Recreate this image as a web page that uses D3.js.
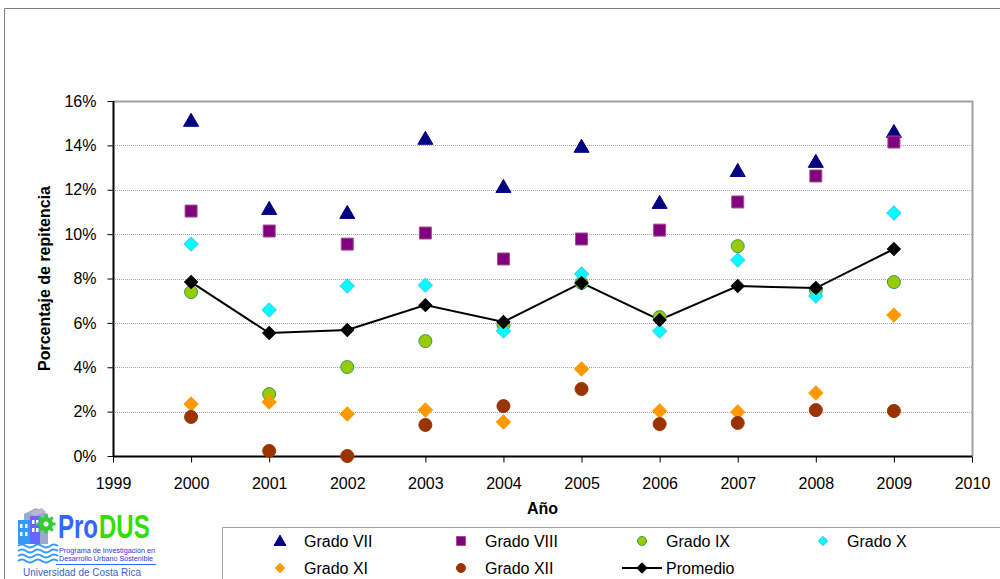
<!DOCTYPE html>
<html>
<head>
<meta charset="utf-8">
<script src="https://cdn.jsdelivr.net/npm/d3@7"></script>
<style>
  html, body { margin: 0; padding: 0; background: #fff; }
  svg { display: block; font-family: "Liberation Sans", Arial, sans-serif; }
</style>
</head>
<body>
<svg id="chart" width="1000" height="579"></svg>
<script>
// Repetition rate (%) by grade, 2000-2009
const years = [2000, 2001, 2002, 2003, 2004, 2005, 2006, 2007, 2008, 2009];
const gradoVII  = [15.1, 11.13, 10.95, 14.29, 12.12, 13.93, 11.4, 12.84, 13.25, 14.6];
const gradoVIII = [11.04, 10.14, 9.55, 10.05, 8.88, 9.78, 10.18, 11.45, 12.62, 14.15];
const gradoIX   = [7.39, 2.79, 4.01, 5.18, 5.9, 7.8, 6.26, 9.46, 7.48, 7.84];
const gradoX    = [9.55, 6.58, 7.66, 7.7, 5.63, 8.2, 5.63, 8.83, 7.21, 10.95];
const gradoXI   = [2.34, 2.43, 1.89, 2.07, 1.53, 3.92, 2.03, 1.98, 2.84, 6.35];
const gradoXII  = [1.76, 0.23, 0.0, 1.40, 2.25, 3.02, 1.44, 1.49, 2.07, 2.03];
const promedio  = [7.84, 5.54, 5.68, 6.8, 6.04, 7.8, 6.13, 7.66, 7.57, 9.33];
const xTicks = [1999, 2000, 2001, 2002, 2003, 2004, 2005, 2006, 2007, 2008, 2009, 2010];
const yTicks = [0, 2, 4, 6, 8, 10, 12, 14, 16];

const series = [
  { name: "Grado VII",  values: gradoVII,  shape: "triangle", fill: "#000080", stroke: "#000080" },
  { name: "Grado VIII", values: gradoVIII, shape: "square",   fill: "#800080", stroke: "#a0508a" },
  { name: "Grado IX",   values: gradoIX,   shape: "circle",   fill: "#99cc00", stroke: "#339966" },
  { name: "Grado X",    values: gradoX,    shape: "diamond",  fill: "#00ffff", stroke: "#33ccff" },
  { name: "Grado XI",   values: gradoXI,   shape: "diamond",  fill: "#ff9900", stroke: "#ff9900" },
  { name: "Grado XII",  values: gradoXII,  shape: "circle",   fill: "#993300", stroke: "#993300" },
  { name: "Promedio",   values: promedio,  shape: "diamond",  fill: "#000000", stroke: "#000000", line: true }
];

const svg = d3.select("#chart");
const plot = { left: 113, right: 972, top: 101, bottom: 456 };

const x = d3.scaleLinear().domain([1999, 2010]).range([plot.left, plot.right]);
const y = d3.scaleLinear().domain([0, 16]).range([plot.bottom, plot.top]);

// outer frame (left and top edges)
svg.append("path")
  .attr("d", "M4.5,579 V8.5 H1000")
  .attr("fill", "none").attr("stroke", "#808080").attr("stroke-width", 1);

// gridlines
svg.append("g").selectAll("line")
  .data(yTicks.filter(d => d > 0 && d < 16))
  .join("line")
  .attr("x1", plot.left).attr("x2", plot.right)
  .attr("y1", d => Math.round(y(d)) + 0.5).attr("y2", d => Math.round(y(d)) + 0.5)
  .attr("stroke", "#a0a0a0").attr("stroke-width", 1).attr("stroke-dasharray", "1,1");

// plot border (top/right gray)
svg.append("path")
  .attr("d", `M${plot.left},${plot.top + 0.5} H${plot.right + 0.5} V${plot.bottom}`)
  .attr("fill", "none").attr("stroke", "#a0a0a0").attr("stroke-width", 2);

// axes
const yAxis = d3.axisLeft(y).tickValues(yTicks).tickFormat(d => d + "%").tickSize(6).tickPadding(11);
const gy = svg.append("g").attr("transform", `translate(${plot.left + 0.5},0)`).call(yAxis);
const xAxis = d3.axisBottom(x).tickValues(xTicks).tickFormat(d3.format("d")).tickSize(6).tickPadding(15);
const gx = svg.append("g").attr("transform", `translate(0,${plot.bottom + 0.5})`).call(xAxis);

[gx, gy].forEach(g => {
  g.select(".domain").attr("stroke", "#000").attr("stroke-width", 2);
  g.selectAll(".tick line").attr("stroke", "#000");
  g.selectAll(".tick text").attr("fill", "#000").style("font-size", "16px")
    .style("font-family", "'Liberation Sans', Arial, sans-serif");
});
gx.select(".domain").attr("d", `M${plot.left},0H${plot.right}`);
gy.select(".domain").attr("d", `M0,${plot.bottom}V${plot.top}`);

// axis titles
svg.append("text")
  .attr("x", x(2004.5)).attr("y", 514)
  .attr("text-anchor", "middle")
  .style("font-size", "16px").style("font-weight", "bold")
  .text("Año");
svg.append("text")
  .attr("transform", `translate(50,${(plot.top + plot.bottom) / 2}) rotate(-90)`)
  .attr("text-anchor", "middle")
  .style("font-size", "16px").style("font-weight", "bold")
  .text("Porcentaje de repitencia");

// marker generator
function marker(sel, shape, size) {
  const types = { triangle: d3.symbolTriangle, square: d3.symbolSquare, circle: d3.symbolCircle };
  const areas = { triangle: size * size * 0.5, square: size * size, circle: Math.PI * size * size / 4, diamond: size * size * 0.5 };
  const sym = shape === "diamond"
    ? d3.symbol().type(d3.symbolSquare).size(areas[shape])
    : d3.symbol().type(types[shape]).size(areas[shape]);
  sel.append("path")
    .attr("d", sym())
    .attr("transform", shape === "diamond" ? "rotate(45)" : (shape === "triangle" ? "translate(0,1)" : null));
}

const sizes = { triangle: 14, square: 12, circle: 13, diamond: 14 };

// average line
const avg = series.find(s => s.line);
svg.append("path")
  .datum(avg.values)
  .attr("fill", "none").attr("stroke", "#000").attr("stroke-width", 2)
  .attr("d", d3.line().x((d, i) => x(years[i])).y(d => y(d)));

// markers
series.forEach(s => {
  const g = svg.append("g");
  s.values.forEach((v, i) => {
    const m = g.append("g").attr("transform", `translate(${x(years[i])},${y(v)})`)
      .attr("fill", s.fill).attr("stroke", s.stroke).attr("stroke-width", 1);
    marker(m, s.shape, s.shape === "diamond" && s.line ? 13 : sizes[s.shape]);
  });
});

// legend
const legend = svg.append("g");
legend.append("path")
  .attr("d", "M222.5,579 V527.5 H1000")
  .attr("fill", "none").attr("stroke", "#a0a0a0");
const colX = [280, 461, 642, 823];
const rowY = [541, 568];
series.forEach((s, i) => {
  const mx = colX[i % 4], my = rowY[Math.floor(i / 4)];
  if (s.line) {
    legend.append("line").attr("x1", mx - 20).attr("x2", mx + 20)
      .attr("y1", my).attr("y2", my).attr("stroke", "#000").attr("stroke-width", 2);
  }
  const m = legend.append("g").attr("transform", `translate(${mx},${my})`)
    .attr("fill", s.fill).attr("stroke", s.stroke);
  marker(m, s.shape, s.line ? 10 : (s.shape === "triangle" ? 11 : 9));
  legend.append("text").attr("x", mx + 24).attr("y", my + 5.5)
    .style("font-size", "16px").text(s.name);
});

// ProDUS logo
const logo = svg.append("g").attr("transform", "translate(16,508)");
// building blocks
logo.append("path").attr("d", "M8,6 L20,0 L32,6 L32,36 L8,36 Z").attr("fill", "#99aacc");
logo.append("path").attr("d", "M14,4 L26,0 L30,4 L18,8 Z").attr("fill", "#b8b8c8");
logo.append("rect").attr("x", 2).attr("y", 12).attr("width", 12).attr("height", 24).attr("fill", "#3399ff");
logo.append("rect").attr("x", 14).attr("y", 8).attr("width", 10).attr("height", 28).attr("fill", "#6666ff");
[[4,16],[4,24],[9,16],[9,24],[16,12],[16,20],[20,12],[20,20]].forEach(([a,b]) =>
  logo.append("rect").attr("x", a).attr("y", b).attr("width", 2.5).attr("height", 4).attr("fill", "#ffffff"));
// gear
logo.append("circle").attr("cx", 30).attr("cy", 16).attr("r", 7).attr("fill", "#33cc33");
d3.range(8).forEach(k => {
  logo.append("rect").attr("x", 28.5).attr("y", 6.5).attr("width", 3).attr("height", 4)
    .attr("fill", "#33cc33").attr("transform", `rotate(${k * 45},30,16)`);
});
logo.append("circle").attr("cx", 30).attr("cy", 16).attr("r", 2.5).attr("fill", "#ffffff");
// waves
[38, 43, 48, 53].forEach(wy => {
  logo.append("path")
    .attr("d", `M2,${wy} q4,-3 8,0 t8,0 t8,0 t8,0 t8,0`)
    .attr("fill", "none").attr("stroke", "#3399ff").attr("stroke-width", 2);
});
// wordmark: tall condensed letters made by stretching a bold face vertically
logo.append("text").attr("transform", "translate(42,30) scale(1,1.4)").attr("fill", "#3366ff")
  .style("font-size", "24px").style("font-weight", "bold")
  .text("Pro");
logo.append("text").attr("transform", "translate(83,30) scale(1,1.4)").attr("fill", "#33dd00")
  .style("font-size", "24px").style("font-weight", "bold")
  .text("DUS");
logo.append("text").attr("x", 43).attr("y", 45).attr("fill", "#3333cc")
  .style("font-size", "6.5px").attr("textLength", 96).attr("lengthAdjust", "spacingAndGlyphs")
  .text("Programa de Investigación en");
logo.append("text").attr("x", 43).attr("y", 53).attr("fill", "#3333cc")
  .style("font-size", "6.5px").attr("textLength", 94).attr("lengthAdjust", "spacingAndGlyphs")
  .text("Desarrollo Urbano Sostenible");
logo.append("line").attr("x1", 40).attr("x2", 140).attr("y1", 56.5).attr("y2", 56.5).attr("stroke", "#3366ff");
logo.append("text").attr("x", 7).attr("y", 68).attr("fill", "#3366cc")
  .style("font-size", "10px").attr("textLength", 118).attr("lengthAdjust", "spacingAndGlyphs")
  .text("Universidad de Costa Rica");
</script>
</body>
</html>
